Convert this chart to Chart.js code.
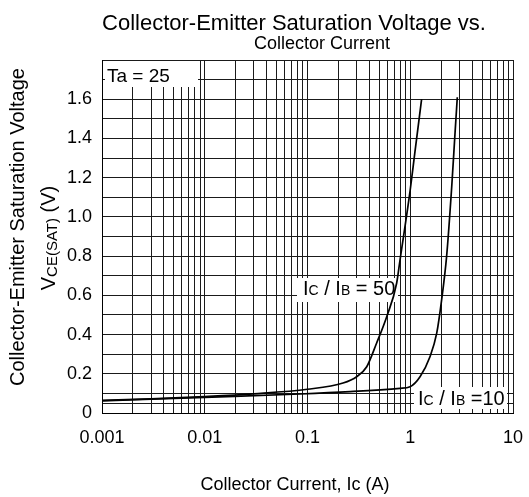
<!DOCTYPE html>
<html>
<head>
<meta charset="utf-8">
<script src="https://cdn.jsdelivr.net/npm/chart.js@4.4.1/dist/chart.umd.min.js"></script>
<style>
  body { margin: 0; background: #fff; }
  canvas { display: block; }
</style>
</head>
<body>
<canvas id="vceChart" width="529" height="497"></canvas>
<script>
// collector current (A) and Vce(sat) (V)
const currentRatio50 = [0.001, 0.003, 0.01, 0.03, 0.1, 0.222, 0.301, 0.377, 0.471, 0.59, 0.738, 0.795, 0.995, 1.11, 1.29];
const vceRatio50 = [0.064, 0.072, 0.084, 0.098, 0.121, 0.153, 0.185, 0.236, 0.357, 0.491, 0.663, 0.78, 1.13, 1.33, 1.60];

const currentRatio10 = [0.001, 0.01, 0.0845, 0.26, 0.795, 0.995, 1.245, 1.556, 1.81, 2.02, 2.26, 2.53, 2.73, 2.87];
const vceRatio10 = [0.062, 0.08, 0.097, 0.109, 0.126, 0.134, 0.185, 0.287, 0.407, 0.577, 0.80, 1.15, 1.43, 1.61];

// axis ticks
const xDecades = [0.001, 0.01, 0.1, 1];
const xMantissas = [1, 2, 3, 4, 5, 6, 7, 8, 9];
const xLabelValues = [0.001, 0.01, 0.1, 1, 10];
const xLabelTexts = ["0.001", "0.01", "0.1", "1", "10"];

const yGridValues = [0, 0.05, 0.1, 0.2, 0.3, 0.4, 0.5, 0.6, 0.7, 0.8, 0.9, 1.0,
                     1.1, 1.2, 1.3, 1.4, 1.5, 1.6, 1.7, 1.8];
const yLabelValues = [0, 0.2, 0.4, 0.6, 0.8, 1.0, 1.2, 1.4, 1.6];
const yLabelTexts = ["0", "0.2", "0.4", "0.6", "0.8", "1.0", "1.2", "1.4", "1.6"];

const FONT = "'Liberation Sans', Arial, sans-serif";

function toPoints(xs, ys) {
    return xs.map((x, i) => ({ x: x, y: ys[i] }));
}

function findLabel(values, texts, v) {
    for (let i = 0; i < values.length; i++) {
        if (Math.abs(values[i] - v) < values[i] * 1e-6 + 1e-9) return texts[i];
    }
    return "";
}

// draw a run of text pieces with different sizes (for subscripts)
function runWidth(ctx, runs) {
    let w = 0;
    runs.forEach(r => {
        ctx.font = r.size + "px " + FONT;
        w += ctx.measureText(r.t).width;
    });
    return w;
}

function drawRuns(ctx, runs, x, y, align) {
    let w = runWidth(ctx, runs);
    let cx = align === "center" ? x - w / 2 : x;
    runs.forEach(r => {
        ctx.font = r.size + "px " + FONT;
        ctx.fillText(r.t, cx, y + (r.dy || 0));
        cx += ctx.measureText(r.t).width;
    });
}

const textPlugin = {
    id: "textPlugin",
    beforeDatasetsDraw(chart) {
        const ctx = chart.ctx;
        ctx.save();
        ctx.textBaseline = "alphabetic";
        ctx.textAlign = "left";

        // Ta = 25 box
        ctx.fillStyle = "#fff";
        ctx.fillRect(105, 61, 93, 26);
        ctx.fillStyle = "#000";
        drawRuns(ctx, [{ t: "Ta = 25", size: 19 }], 107, 82, "left");

        // Ic / Ib = 50
        ctx.fillStyle = "#fff";
        ctx.fillRect(297, 278, 101, 24);
        ctx.fillStyle = "#000";
        drawRuns(ctx, [
            { t: "I", size: 20 }, { t: "C", size: 14 }, { t: " / ", size: 20 },
            { t: "I", size: 20 }, { t: "B", size: 14 }, { t: " = 50", size: 20 }
        ], 303, 295, "left");

        // Ic / Ib =10
        ctx.fillStyle = "#fff";
        ctx.fillRect(414, 387, 93, 22);
        ctx.fillStyle = "#000";
        drawRuns(ctx, [
            { t: "I", size: 20 }, { t: "C", size: 14 }, { t: " / ", size: 20 },
            { t: "I", size: 20 }, { t: "B", size: 14 }, { t: " =10", size: 20 }
        ], 418, 405, "left");
        ctx.restore();
    },
    afterDraw(chart) {
        const ctx = chart.ctx;
        ctx.save();
        ctx.fillStyle = "#000";
        ctx.textBaseline = "alphabetic";
        ctx.textAlign = "left";

        // title
        drawRuns(ctx, [{ t: "Collector-Emitter Saturation Voltage vs.", size: 22 }], 294, 30, "center");
        drawRuns(ctx, [{ t: "Collector Current", size: 18 }], 322, 49, "center");

        // x axis title
        drawRuns(ctx, [{ t: "Collector Current, Ic (A)", size: 18 }], 295, 490, "center");

        // y axis title (two lines, rotated)
        ctx.save();
        ctx.translate(24, 227);
        ctx.rotate(-Math.PI / 2);
        drawRuns(ctx, [{ t: "Collector-Emitter Saturation Voltage", size: 20 }], 0, 0, "center");
        ctx.restore();

        ctx.save();
        ctx.translate(55, 238);
        ctx.rotate(-Math.PI / 2);
        drawRuns(ctx, [
            { t: "V", size: 20 }, { t: "CE(SAT)", size: 15, dy: 2 }, { t: " (V)", size: 20 }
        ], 0, 0, "center");
        ctx.restore();

        ctx.restore();
    }
};

const gridColor = "#1a1a1a";

new Chart(document.getElementById("vceChart"), {
    type: "line",
    data: {
        datasets: [
            {
                label: "Ic / Ib = 50",
                data: toPoints(currentRatio50, vceRatio50),
                borderColor: "#000",
                borderWidth: 1.7,
                pointRadius: 0,
                fill: false,
                cubicInterpolationMode: "monotone"
            },
            {
                label: "Ic / Ib = 10",
                data: toPoints(currentRatio10, vceRatio10),
                borderColor: "#000",
                borderWidth: 1.7,
                pointRadius: 0,
                fill: false,
                cubicInterpolationMode: "monotone"
            }
        ]
    },
    options: {
        responsive: false,
        animation: false,
        layout: { padding: { left: 0, top: 60, right: 16, bottom: 0 } },
        plugins: {
            legend: { display: false },
            tooltip: { enabled: false },
            title: { display: false }
        },
        scales: {
            x: {
                type: "logarithmic",
                min: 0.001,
                max: 10,
                afterBuildTicks(scale) {
                    const ticks = [];
                    xDecades.forEach(d => xMantissas.forEach(m => ticks.push({ value: d * m })));
                    ticks.push({ value: 10 });
                    scale.ticks = ticks;
                },
                afterFit(scale) {
                    scale.height = 84;
                    scale.paddingLeft = 0;
                    scale.paddingRight = 0;
                },
                grid: { color: gridColor, lineWidth: 1, drawTicks: false },
                border: { display: true, color: "#000", width: 1 },
                ticks: {
                    autoSkip: false,
                    maxRotation: 0,
                    padding: 14,
                    color: "#000",
                    font: { family: FONT, size: 18 },
                    callback(value) { return findLabel(xLabelValues, xLabelTexts, value); }
                }
            },
            y: {
                type: "linear",
                min: 0,
                max: 1.8,
                afterBuildTicks(scale) {
                    scale.ticks = yGridValues.map(v => ({ value: v }));
                },
                afterFit(scale) {
                    scale.width = 102;
                    scale.paddingTop = 0;
                    scale.paddingBottom = 0;
                },
                grid: { color: gridColor, lineWidth: 1, drawTicks: false },
                border: { display: true, color: "#000", width: 1 },
                ticks: {
                    autoSkip: false,
                    padding: 10,
                    color: "#000",
                    font: { family: FONT, size: 18 },
                    callback(value) { return findLabel(yLabelValues, yLabelTexts, value); }
                }
            }
        }
    },
    plugins: [textPlugin]
});
</script>
</body>
</html>
